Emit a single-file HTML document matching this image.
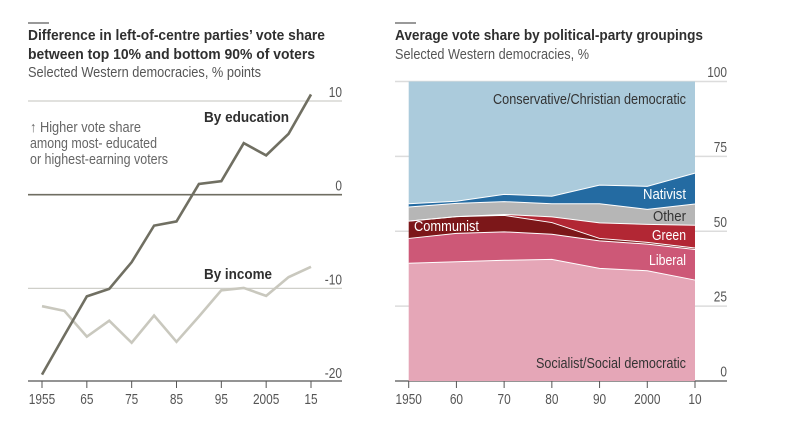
<!DOCTYPE html>
<html lang="en">
<head>
<meta charset="utf-8">
<title>Vote share charts</title>
<style>
html,body{margin:0;padding:0;background:#fff;}
svg{display:block;font-family:"Liberation Sans",sans-serif;}
.title{font-size:15px;font-weight:bold;fill:#2f2f2f;}
.sub{font-size:15px;fill:#555;}
.tick{font-size:14.5px;fill:#555;}
.note{font-size:14.5px;fill:#666;}
.serieslabel{font-size:15px;font-weight:bold;fill:#2f2f2f;}
.area-dark{font-size:14.5px;fill:#333;}
.area-light{font-size:14.5px;fill:#fff;}
</style>
</head>
<body>
<svg id="chart" xmlns="http://www.w3.org/2000/svg" width="808" height="446" viewBox="0 0 808 446">
  <rect x="0" y="0" width="808" height="446" fill="#fff"/>
  <rect x="28" y="22.5" width="21" height="1" fill="#333"/>
  <rect x="395" y="22.5" width="21" height="1" fill="#333"/>
  <text class="title" x="28" y="40" textLength="297" lengthAdjust="spacingAndGlyphs">Difference in left-of-centre parties’ vote share</text>
  <text class="title" x="28" y="59" textLength="287" lengthAdjust="spacingAndGlyphs">between top 10% and bottom 90% of voters</text>
  <text class="sub" x="28" y="77" textLength="233" lengthAdjust="spacingAndGlyphs">Selected Western democracies, % points</text>
  <text class="title" x="395" y="40" textLength="308" lengthAdjust="spacingAndGlyphs">Average vote share by political-party groupings</text>
  <text class="sub" x="395" y="59" textLength="194" lengthAdjust="spacingAndGlyphs">Selected Western democracies, %</text>
  <g id="left-grid"></g>
  <g id="right-grid"></g>
  <g id="areas"></g>
  <g id="lines"></g>
  <g id="axes"></g>
  <text class="note" x="30" y="132" textLength="111" lengthAdjust="spacingAndGlyphs">↑ Higher vote share</text>
  <text class="note" x="30" y="148" textLength="127" lengthAdjust="spacingAndGlyphs">among most- educated</text>
  <text class="note" x="30" y="164" textLength="138" lengthAdjust="spacingAndGlyphs">or highest-earning voters</text>
  <text class="serieslabel" x="204" y="122" textLength="85" lengthAdjust="spacingAndGlyphs">By education</text>
  <text class="serieslabel" x="204" y="279" textLength="68" lengthAdjust="spacingAndGlyphs">By income</text>
  <text class="area-dark" x="493" y="104" textLength="193" lengthAdjust="spacingAndGlyphs">Conservative/Christian democratic</text>
  <text class="area-light" x="643" y="199" textLength="43" lengthAdjust="spacingAndGlyphs">Nativist</text>
  <text class="area-dark" x="653" y="221" textLength="33" lengthAdjust="spacingAndGlyphs">Other</text>
  <text class="area-light" x="652" y="240" textLength="34" lengthAdjust="spacingAndGlyphs">Green</text>
  <text class="area-light" x="649" y="265" textLength="37" lengthAdjust="spacingAndGlyphs">Liberal</text>
  <text class="area-light" x="414" y="231" textLength="65" lengthAdjust="spacingAndGlyphs">Communist</text>
  <text class="area-dark" x="536" y="368" textLength="150" lengthAdjust="spacingAndGlyphs">Socialist/Social democratic</text>
</svg>
<script>
var leftYears = [1955,1960,1965,1970,1975,1980,1985,1990,1995,2000,2005,2010,2015];
var educationValues = [-19.2,-15,-10.85,-10.05,-7.2,-3.3,-2.85,1.15,1.45,5.5,4.2,6.5,10.7];
var incomeValues = [-11.9,-12.4,-15.15,-13.45,-15.8,-12.9,-15.7,-13,-10.2,-9.95,-10.8,-8.8,-7.7];
var leftYTicks = [10,0,-10,-20];
var leftXTicks = [1955,1965,1975,1985,1995,2005,2015];
var leftXLabels = ['1955','65','75','85','95','2005','15'];

var rightYears = [1950,1960,1970,1980,1990,2000,2010];
var socialistShare = [39.3,39.8,40.3,40.6,37.6,36.8,33.7];
var liberalShare = [8.3,9.5,9.5,8.4,9.2,8.9,10.2];
var communistShare = [5.8,5.6,5.5,3.9,0.8,0.6,0.5];
var greenShare = [0,0,0.3,1.9,5.2,6,7.6];
var otherShare = [4.7,4.4,4.3,4.4,6.4,5,7.1];
var nativistShare = [1.1,0.7,2.4,2.5,6.2,7.7,10.3];
var conservativeShare = [40.8,40,37.7,38.3,34.6,35,30.6];
var rightYTicks = [100,75,50,25,0];
var rightXTicks = [1950,1960,1970,1980,1990,2000,2010];
var rightXLabels = ['1950','60','70','80','90','2000','10'];

var NS = 'http://www.w3.org/2000/svg';
function make(tag, parentId, attrs, text) {
  var el = document.createElementNS(NS, tag);
  for (var k in attrs) { el.setAttribute(k, attrs[k]); }
  if (text !== undefined) { el.textContent = text; }
  document.getElementById(parentId).appendChild(el);
  return el;
}
function tickWidth(s) { return s.replace('-', '').length * 6.6 + (s.charAt(0) === '-' ? 4 : 0); }
function tickLabel(parentId, x, y, anchor, s) {
  return make('text', parentId, {
    x: x, y: y, 'text-anchor': anchor, 'class': 'tick',
    textLength: tickWidth(s), lengthAdjust: 'spacingAndGlyphs'
  }, s);
}
function leftX(year) { return 42 + (year - 1955) * (311 - 42) / 60; }
function leftY(v) { return 194.7 - v * 9.37; }
function rightX(year) { return 408.7 + (year - 1950) * (695 - 408.7) / 60; }
function rightY(v) { return 381 - v * 2.995; }

// Left gridlines and y labels
leftYTicks.forEach(function (t) {
  var isAxis = t === -20;
  var isZero = t === 0;
  var line = make('line', 'left-grid', {
    x1: 28, x2: 342,
    y1: isAxis ? 381 : leftY(t), y2: isAxis ? 381 : leftY(t),
    stroke: isAxis ? '#555' : (isZero ? '#6f6e62' : '#cfcfc9'),
    'stroke-width': isZero ? 1.6 : 1.2
  });
  
  
  var label = tickLabel('left-grid', 342, isAxis ? 378 : leftY(t) - 4, 'end', String(t));
  
  
});

// Right gridlines and y labels
rightYTicks.forEach(function (t) {
  var line = make('line', 'right-grid', {
    x1: 395, x2: 727, y1: rightY(t), y2: rightY(t),
    stroke: t === 0 ? '#555' : '#dcdcdc', 'stroke-width': t === 0 ? 1.2 : 1.4
  });
  
  
  var label = tickLabel('right-grid', 727, rightY(t) - 4.5, 'end', String(t));
  
  
});

// Stacked areas
var stackSeries = [
  { name: 'socialist-area', values: socialistShare, color: '#e5a6b7' },
  { name: 'liberal-area', values: liberalShare, color: '#cd5877' },
  { name: 'communist-area', values: communistShare, color: '#7c1719' },
  { name: 'green-area', values: greenShare, color: '#b22734' },
  { name: 'other-area', values: otherShare, color: '#b6b6b6' },
  { name: 'nativist-area', values: nativistShare, color: '#246ba2' },
  { name: 'conservative-area', values: conservativeShare, color: '#abcbdc' }
];
var base = rightYears.map(function () { return 0; });
stackSeries.forEach(function (s, idx) {
  var top = base.map(function (b, i) { return b + s.values[i]; });
  var upper = rightYears.map(function (y, i) { return rightX(y) + ',' + rightY(top[i]); });
  var lower = rightYears.map(function (y, i) { return rightX(y) + ',' + rightY(base[i]); }).reverse();
  var poly = make('polygon', 'areas', { points: upper.concat(lower).join(' '), fill: s.color });
  
  
  if (idx < stackSeries.length - 1) {
    s.edge = upper.join(' ');
  }
  base = top;
});
stackSeries.forEach(function (s) {
  if (!s.edge) { return; }
  var edge = make('polyline', 'areas', { points: s.edge, fill: 'none', stroke: '#fff', 'stroke-width': 1 });
  
  
});

// Line series
function linePoints(values) {
  return leftYears.map(function (y, i) { return leftX(y) + ',' + leftY(values[i]); }).join(' ');
}
var incomeLine = make('polyline', 'lines', { points: linePoints(incomeValues), fill: 'none', stroke: '#c9c8be', 'stroke-width': 2.6 });


var educationLine = make('polyline', 'lines', { points: linePoints(educationValues), fill: 'none', stroke: '#706f62', 'stroke-width': 2.6 });



// X ticks and labels
leftXTicks.forEach(function (y, i) {
  var tick = make('line', 'axes', { x1: leftX(y), x2: leftX(y), y1: 381, y2: 388, stroke: '#555', 'stroke-width': 1 });
  
  
  var label = tickLabel('axes', leftX(y), 404, 'middle', leftXLabels[i]);
  
  
});
rightXTicks.forEach(function (y, i) {
  var tick = make('line', 'axes', { x1: rightX(y), x2: rightX(y), y1: 381, y2: 388, stroke: '#555', 'stroke-width': 1 });
  
  
  var label = tickLabel('axes', rightX(y), 404, 'middle', rightXLabels[i]);
  
  
});
</script>
</body>
</html>
